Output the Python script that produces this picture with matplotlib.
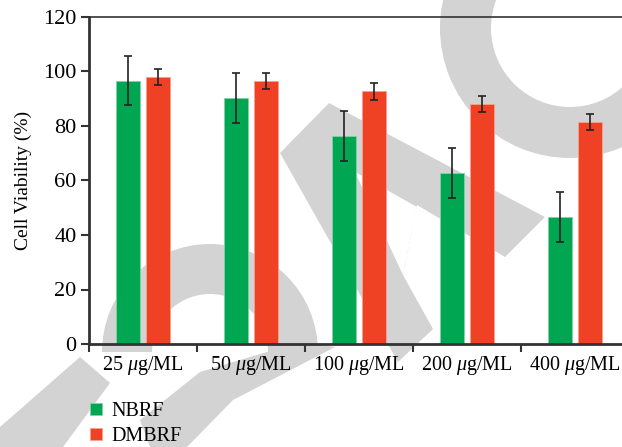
import numpy as np
import matplotlib
matplotlib.use("Agg")
import matplotlib.pyplot as plt
from matplotlib.patches import Wedge, Polygon

# data
doses = ["25 $\\mu$g/ML", "50 $\\mu$g/ML", "100 $\\mu$g/ML", "200 $\\mu$g/ML", "400 $\\mu$g/ML"]
nbrf = [96.6, 90.2, 76.4, 62.8, 46.7]
nbrf_err = [9.0, 9.1, 9.1, 9.2, 9.1]
dmbrf = [97.9, 96.5, 92.7, 88.0, 81.5]
dmbrf_err = [3.0, 3.0, 3.0, 3.0, 3.0]

plt.rcParams['font.family'] = ['Liberation Serif', 'DejaVu Serif']
plt.rcParams['mathtext.fontset'] = 'custom'
plt.rcParams['mathtext.it'] = 'Liberation Serif:italic'
plt.rcParams['mathtext.rm'] = 'Liberation Serif'

fig = plt.figure(figsize=(6.22, 4.47), dpi=100)

# grey watermark in the background (pixel coords)
bg = fig.add_axes([0, 0, 1, 1], zorder=0)
bg.set_xlim(0, 622)
bg.set_ylim(447, 0)
bg.axis('off')
grey = '#d3d3d3'
bg.add_patch(Wedge((570, 28), 130, 0, 360, width=51, color=grey, lw=0))
bg.add_patch(Wedge((210, 352), 108, 180, 360, width=50, color=grey, lw=0))
bg.add_patch(Polygon([(280, 153), (329, 103), (545, 217), (505, 257), (417, 205),
                      (403, 275), (433, 329), (398, 362)], color=grey, lw=0))
bg.add_patch(Polygon([(355, 172), (417, 207), (403, 275)], color='white', lw=0))
bg.add_patch(Polygon([(80, 357), (110, 383), (63, 447), (0, 447), (0, 427)], color=grey, lw=0))
bg.add_patch(Polygon([(200, 372), (300, 342), (335, 347), (233, 400), (187, 447),
                      (150, 447), (140, 420)], color=grey, lw=0))

ax = fig.add_axes([89/622, 1 - 344/447, 540/622, 327/447], zorder=1)
ax.set_facecolor('none')

x = np.arange(len(doses))
w = 0.22
ekw = dict(ecolor='#222222', elinewidth=1.2, capsize=3, capthick=1.2)
ax.bar(x - 0.14, nbrf, w, yerr=nbrf_err, color='#00a651', edgecolor='#7fd3a8', linewidth=0.6,
       error_kw=ekw, label='NBRF')
ax.bar(x + 0.14, dmbrf, w, yerr=dmbrf_err, color='#ef4123', edgecolor='#f7a08f', linewidth=0.6,
       error_kw=ekw, label='DMBRF')

ax.set_xlim(-0.5, 4.5)
ax.set_ylim(0, 120)
ax.set_yticks(range(0, 121, 20))
ax.set_xticks(np.arange(-0.5, 5, 1))
ax.set_xticklabels([])
ax.set_xticks(x, minor=True)
ax.set_xticklabels(doses, minor=True, fontsize=14.5)
ax.tick_params(axis='x', which='minor', length=0, pad=7)
ax.tick_params(axis='x', which='major', length=6, width=1.5, color='#333333', direction='out')
ax.tick_params(axis='y', length=6, width=1.5, color='#333333', labelsize=16, pad=3)
ax.set_ylabel('Cell Viability (%)', fontsize=14, labelpad=8)

for s in ['left', 'bottom']:
    ax.spines[s].set_linewidth(2)
    ax.spines[s].set_color('#333333')
ax.spines['top'].set_linewidth(1.2)
ax.spines['top'].set_color('#333333')
ax.spines['right'].set_visible(False)

ax.legend(loc='upper left', bbox_to_anchor=(82/622, 53/447), bbox_transform=fig.transFigure,
          frameon=False, fontsize=14.5, handlelength=0.6, handleheight=0.6, handletextpad=0.45,
          labelspacing=0.3, borderaxespad=0)

fig.savefig('out.png', dpi=100)
